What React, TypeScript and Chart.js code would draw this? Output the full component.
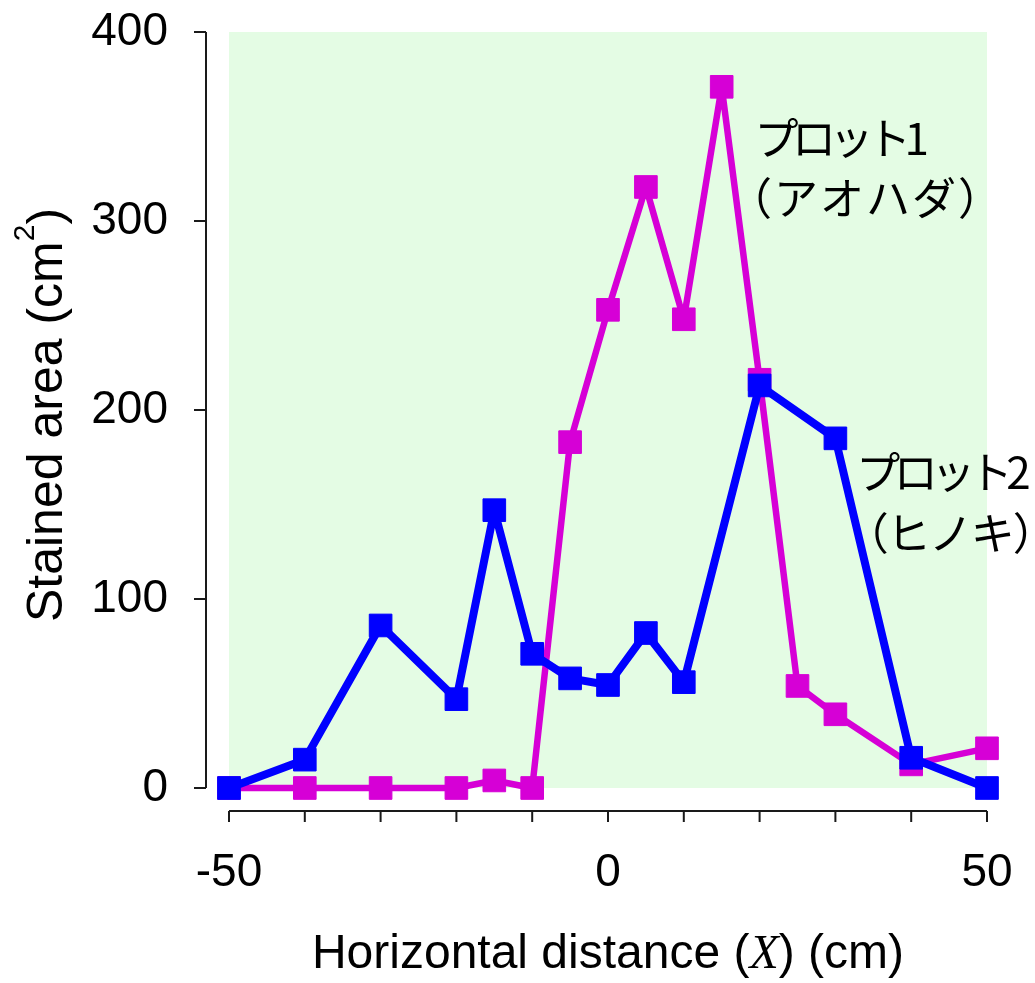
import React, { useEffect, useRef } from "react";
import { Chart, registerables } from "chart.js";

Chart.register(...registerables);

// ---- data ----
const hinokiX = [-50, -40, -30, -20, -15, -10, -5, 0, 5, 10, 20, 30, 40, 50];
const hinokiY = [0, 15, 86, 47, 147, 71, 58, 54.5, 82, 56, 213, 185, 16, 0];
const aohadaX = [-50, -40, -30, -20, -15, -10, -5, 0, 5, 10, 15, 20, 25, 30, 40, 50];
const aohadaY = [0, 0, 0, 0, 4, 0, 183, 253, 318, 248, 371, 216, 54, 39, 12.5, 21];

const xLabelTicks = [-50, 0, 50];
const xMinorTicks = [-50, -40, -30, -20, -10, 0, 10, 20, 30, 40, 50];
const yTicks = [0, 100, 200, 300, 400];

const annotations = [
  { text: "プロット1", x: 20, y: 344, spacing: -6.5 },
  { text: "（アオハダ）", x: 19.8, y: 312, spacing: 2 },
  { text: "プロット2", x: 33.4, y: 167, spacing: -6.5 },
  { text: "（ヒノキ）", x: 35.2, y: 135, spacing: -2 },
];

const BLUE = "#0000FF";
const MAGENTA = "#D600D6";
const BG = "#E4FCE4";
const AXIS = "#1a1a1a";
const SANS = "'Liberation Sans', Arial, sans-serif";
const JP = "'Noto Sans CJK JP', sans-serif";

const decor = {
  id: "decor",
  beforeDraw(chart: any) {
    const { ctx, chartArea: a } = chart;
    ctx.save();
    ctx.fillStyle = BG;
    ctx.fillRect(a.left, a.top, a.right - a.left, a.bottom - a.top);
    ctx.restore();
  },
  afterDraw(chart: any) {
    const { ctx, chartArea: a } = chart;
    const xs = chart.scales.x;
    const ys = chart.scales.y;
    ctx.save();
    // axes
    ctx.strokeStyle = AXIS;
    ctx.lineWidth = 2;
    const axX = a.left - 23;
    ctx.beginPath();
    ctx.moveTo(axX, ys.getPixelForValue(400));
    ctx.lineTo(axX, ys.getPixelForValue(0));
    for (const t of yTicks) {
      const py = ys.getPixelForValue(t);
      ctx.moveTo(axX, py);
      ctx.lineTo(axX - 12, py);
    }
    const axY = a.bottom + 23;
    ctx.moveTo(xs.getPixelForValue(-50), axY);
    ctx.lineTo(xs.getPixelForValue(50), axY);
    for (const t of xMinorTicks) {
      const px = xs.getPixelForValue(t);
      ctx.moveTo(px, axY);
      ctx.lineTo(px, axY + 11);
    }
    ctx.stroke();

    // x title
    ctx.fillStyle = "#000";
    ctx.textBaseline = "alphabetic";
    ctx.textAlign = "left";
    const parts: [string, string][] = [
      ["Horizontal distance (", `48px ${SANS}`],
      ["X", `italic 48px 'Liberation Serif', 'Times New Roman', serif`],
      [") (cm)", `48px ${SANS}`],
    ];
    let total = 0;
    for (const [t, f] of parts) {
      ctx.font = f;
      total += ctx.measureText(t).width;
    }
    let cx = (a.left + a.right) / 2 - total / 2;
    for (const [t, f] of parts) {
      ctx.font = f;
      ctx.fillText(t, cx, 968);
      cx += ctx.measureText(t).width;
    }

    // y title
    ctx.save();
    ctx.translate(62, 415);
    ctx.rotate(-Math.PI / 2);
    const yparts: [string, string, number][] = [
      ["Stained area (cm", `50px ${SANS}`, 0],
      ["2", `30px ${SANS}`, -28],
      [")", `50px ${SANS}`, 0],
    ];
    let ytotal = 0;
    for (const [t, f] of yparts) {
      ctx.font = f;
      ytotal += ctx.measureText(t).width;
    }
    let yx = -ytotal / 2;
    for (const [t, f, dy] of yparts) {
      ctx.font = f;
      ctx.fillText(t, yx, dy);
      yx += ctx.measureText(t).width;
    }
    ctx.restore();

    // annotations
    ctx.font = `44px ${JP}`;
    ctx.textBaseline = "middle";
    ctx.textAlign = "left";
    for (const an of annotations) {
      (ctx as any).letterSpacing = `${an.spacing}px`;
      const m = ctx.measureText(an.text);
      const px = xs.getPixelForValue(an.x) + m.actualBoundingBoxLeft;
      ctx.fillText(an.text, px, ys.getPixelForValue(an.y));
    }
    (ctx as any).letterSpacing = "0px";
    ctx.restore();
  },
};

export default function App() {
  const ref = useRef<HTMLCanvasElement>(null);
  useEffect(() => {
    const chart = new Chart(ref.current!, {
      type: "line",
      data: {
        datasets: [
          {
            label: "プロット2（ヒノキ）",
            data: hinokiX.map((x, i) => ({ x, y: hinokiY[i] })),
            borderColor: BLUE,
            backgroundColor: BLUE,
            borderWidth: 8,
            borderJoinStyle: "round",
            pointStyle: "rect",
            pointRadius: 16,
            pointBorderWidth: 1,
            pointBackgroundColor: BLUE,
            pointBorderColor: BLUE,
            tension: 0,
            clip: false as any,
          },
          {
            label: "プロット1（アオハダ）",
            data: aohadaX.map((x, i) => ({ x, y: aohadaY[i] })),
            borderColor: MAGENTA,
            backgroundColor: MAGENTA,
            borderWidth: 6.5,
            borderJoinStyle: "round",
            pointStyle: "rect",
            pointRadius: 16,
            pointBorderWidth: 1,
            pointBackgroundColor: MAGENTA,
            pointBorderColor: MAGENTA,
            tension: 0,
            clip: false as any,
          },
        ],
      },
      options: {
        responsive: false,
        animation: false,
        events: [],
        layout: { padding: { left: 0, top: 32, right: 48, bottom: 0 } },
        plugins: { legend: { display: false }, tooltip: { enabled: false }, title: { display: false } },
        scales: {
          x: {
            type: "linear",
            min: -50,
            max: 50,
            grid: { display: false, drawTicks: false },
            border: { display: false },
            afterBuildTicks: (s: any) => {
              s.ticks = xLabelTicks.map((v) => ({ value: v }));
            },
            afterFit: (s: any) => {
              s.height = 195;
              s.paddingLeft = 0;
              s.paddingRight = 0;
              s.paddingTop = 0;
              s.paddingBottom = 0;
            },
            ticks: {
              autoSkip: false,
              maxRotation: 0,
              padding: 58,
              color: "#000",
              font: { family: SANS, size: 46 },
            },
          },
          y: {
            type: "linear",
            min: 0,
            max: 400,
            grid: { display: false, drawTicks: false },
            border: { display: false },
            afterBuildTicks: (s: any) => {
              s.ticks = yTicks.map((v) => ({ value: v }));
            },
            afterFit: (s: any) => {
              s.width = 229;
              s.paddingLeft = 0;
              s.paddingRight = 0;
              s.paddingTop = 0;
              s.paddingBottom = 0;
            },
            ticks: {
              padding: 61,
              color: "#000",
              font: { family: SANS, size: 46 },
            },
          },
        },
      },
      plugins: [decor],
    });
    return () => chart.destroy();
  }, []);
  return (
    <div style={{ position: "absolute", left: 0, top: 0, width: 1035, height: 983 }}>
      <canvas ref={ref} width={1035} height={983} style={{ display: "block" }} />
    </div>
  );
}
